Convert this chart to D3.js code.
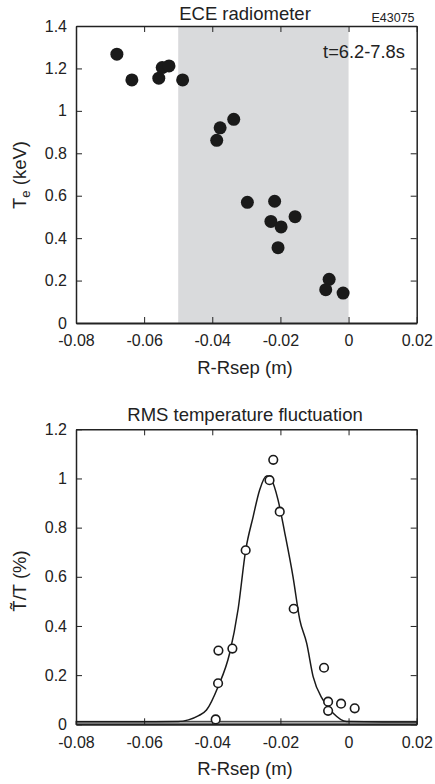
<!DOCTYPE html>
<html>
<head>
<meta charset="utf-8">
<script src="https://cdn.jsdelivr.net/npm/d3@7"></script>
<style>
  body { margin: 0; background: #fff; }
  svg { font-family: "Liberation Sans", Arial, sans-serif; }
  .axis path, .axis line { stroke: #222; }
  .axis text { fill: #222; font-size: 16px; }
</style>
</head>
<body>
<svg id="chart" width="435" height="784"></svg>
<script>
// top panel: ECE radiometer Te profile
const eceR = [-0.0680, -0.0636, -0.0557, -0.0547, -0.0527, -0.0487, -0.0337, -0.0377, -0.0387,
  -0.0297, -0.0217, -0.0228, -0.0198, -0.0157, -0.0207, -0.0057, -0.0067, -0.0016];
const eceTe = [1.267, 1.146, 1.154, 1.204, 1.212, 1.146, 0.960, 0.920, 0.861,
  0.569, 0.574, 0.479, 0.453, 0.501, 0.355, 0.206, 0.157, 0.141];
const shadeRange = [-0.05, 0];

// bottom panel: RMS temperature fluctuation
const rmsR = [-0.0221, -0.0232, -0.0202, -0.0302, -0.0161, -0.0382, -0.0341, -0.0383, -0.0390,
  -0.0072, -0.0060, -0.0060, -0.0022, 0.0018];
const rmsVal = [1.076, 0.993, 0.865, 0.708, 0.470, 0.300, 0.308, 0.167, 0.020,
  0.230, 0.092, 0.055, 0.084, 0.065];
const fitR = [-0.080, -0.060, -0.050, -0.047, -0.044, -0.0417, -0.0383, -0.0349, -0.0324, -0.0302,
  -0.0280, -0.0261, -0.0241, -0.0226, -0.0207, -0.0187, -0.0163, -0.0143, -0.0123, -0.0104,
  -0.0075, -0.0045, -0.0006, 0.010, 0.020];
const fitVal = [0.010, 0.010, 0.011, 0.018, 0.035, 0.058, 0.153, 0.289, 0.470, 0.708,
  0.845, 0.953, 1.010, 0.994, 0.913, 0.777, 0.600, 0.424, 0.330, 0.194,
  0.099, 0.045, 0.011, 0.009, 0.009];

const xTicks = [-0.08, -0.06, -0.04, -0.02, 0, 0.02];
const yTicksTop = [0, 0.2, 0.4, 0.6, 0.8, 1, 1.2, 1.4];
const yTicksBot = [0, 0.2, 0.4, 0.6, 0.8, 1, 1.2];

const svg = d3.select("#chart");
const left = 76, right = 416.7;

function panel(top, bottom, yMax) {
  const x = d3.scaleLinear().domain([-0.08, 0.02]).range([left, right]);
  const y = d3.scaleLinear().domain([0, yMax]).range([bottom, top]);
  return { x, y, top, bottom };
}

function frame(p, yTicks) {
  const fmt = d => d === 0 ? "0" : String(d);
  svg.append("g").attr("class", "axis")
    .attr("transform", "translate(0," + p.bottom + ")")
    .call(d3.axisBottom(p.x).tickValues(xTicks).tickFormat(fmt).tickSizeInner(-6).tickSizeOuter(0).tickPadding(12))
    .call(g => g.select(".domain").attr("stroke-width", 2));
  svg.append("g").attr("class", "axis")
    .attr("transform", "translate(0," + p.top + ")")
    .call(d3.axisTop(p.x).tickValues(xTicks).tickFormat("").tickSizeInner(-6).tickSizeOuter(0))
    .call(g => g.select(".domain").attr("stroke-width", 1.5));
  svg.append("g").attr("class", "axis")
    .attr("transform", "translate(" + left + ",0)")
    .call(d3.axisLeft(p.y).tickValues(yTicks).tickFormat(fmt).tickSizeInner(-6).tickSizeOuter(0).tickPadding(9))
    .call(g => g.select(".domain").attr("stroke-width", 1.5));
  svg.append("g").attr("class", "axis")
    .attr("transform", "translate(" + right + ",0)")
    .call(d3.axisRight(p.y).tickValues(yTicks).tickFormat("").tickSizeInner(-6).tickSizeOuter(0))
    .call(g => g.select(".domain").attr("stroke-width", 1.5));
}

// ---- top panel
const p1 = panel(26, 323, 1.4);
svg.append("rect")
  .attr("x", p1.x(shadeRange[0])).attr("y", p1.top)
  .attr("width", p1.x(shadeRange[1]) - p1.x(shadeRange[0]))
  .attr("height", p1.bottom - p1.top)
  .attr("fill", "#d9dadc");
frame(p1, yTicksTop);
svg.append("g").selectAll("circle")
  .data(eceR.map((r, i) => [r, eceTe[i]]))
  .enter().append("circle")
  .attr("cx", d => p1.x(d[0]))
  .attr("cy", d => p1.y(d[1]))
  .attr("r", 6.5)
  .attr("fill", "#1a1a1a");

svg.append("text").attr("x", 245).attr("y", 20).attr("text-anchor", "middle")
  .attr("font-size", 18.5).attr("fill", "#222").text("ECE radiometer");
svg.append("text").attr("x", 393).attr("y", 22).attr("text-anchor", "middle")
  .attr("font-size", 12.5).attr("fill", "#222").text("E43075");
svg.append("text").attr("x", 364).attr("y", 58).attr("text-anchor", "middle")
  .attr("font-size", 18.3).attr("fill", "#222").text("t=6.2-7.8s");
svg.append("text").attr("x", 245).attr("y", 374).attr("text-anchor", "middle")
  .attr("font-size", 18.5).attr("fill", "#222").text("R-Rsep (m)");
const yl1 = svg.append("text").attr("transform", "translate(26,175) rotate(-90)")
  .attr("text-anchor", "middle").attr("font-size", 18.5).attr("fill", "#222");
yl1.append("tspan").text("T");
yl1.append("tspan").attr("font-size", 13).attr("dy", 4).text("e");
yl1.append("tspan").attr("dy", -4).text(" (keV)");

// ---- bottom panel
const p2 = panel(429.3, 724.3, 1.2);
svg.append("rect")
  .attr("x", p2.x(-0.08)).attr("y", p2.y(0.012))
  .attr("width", p2.x(0.02) - p2.x(-0.08))
  .attr("height", p2.y(0) - p2.y(0.012))
  .attr("fill", "#aaa").attr("stroke", "#333").attr("stroke-width", 1);
frame(p2, yTicksBot);
svg.append("path")
  .datum(fitR.map((r, i) => [r, fitVal[i]]))
  .attr("fill", "none").attr("stroke", "#1a1a1a").attr("stroke-width", 1.5)
  .attr("d", d3.line().x(d => p2.x(d[0])).y(d => p2.y(d[1])).curve(d3.curveMonotoneX));
svg.append("g").selectAll("circle")
  .data(rmsR.map((r, i) => [r, rmsVal[i]]))
  .enter().append("circle")
  .attr("cx", d => p2.x(d[0]))
  .attr("cy", d => p2.y(d[1]))
  .attr("r", 4.3)
  .attr("fill", "#fff").attr("stroke", "#1a1a1a").attr("stroke-width", 1.6);

svg.append("text").attr("x", 245).attr("y", 421).attr("text-anchor", "middle")
  .attr("font-size", 18.5).attr("fill", "#222").text("RMS temperature fluctuation");
svg.append("text").attr("x", 245).attr("y", 775).attr("text-anchor", "middle")
  .attr("font-size", 18.5).attr("fill", "#222").text("R-Rsep (m)");
svg.append("text").attr("transform", "translate(26,581) rotate(-90)")
  .attr("text-anchor", "middle").attr("font-size", 18.5).attr("fill", "#222")
  .text("T\u0303/T (%)");
</script>
</body>
</html>
